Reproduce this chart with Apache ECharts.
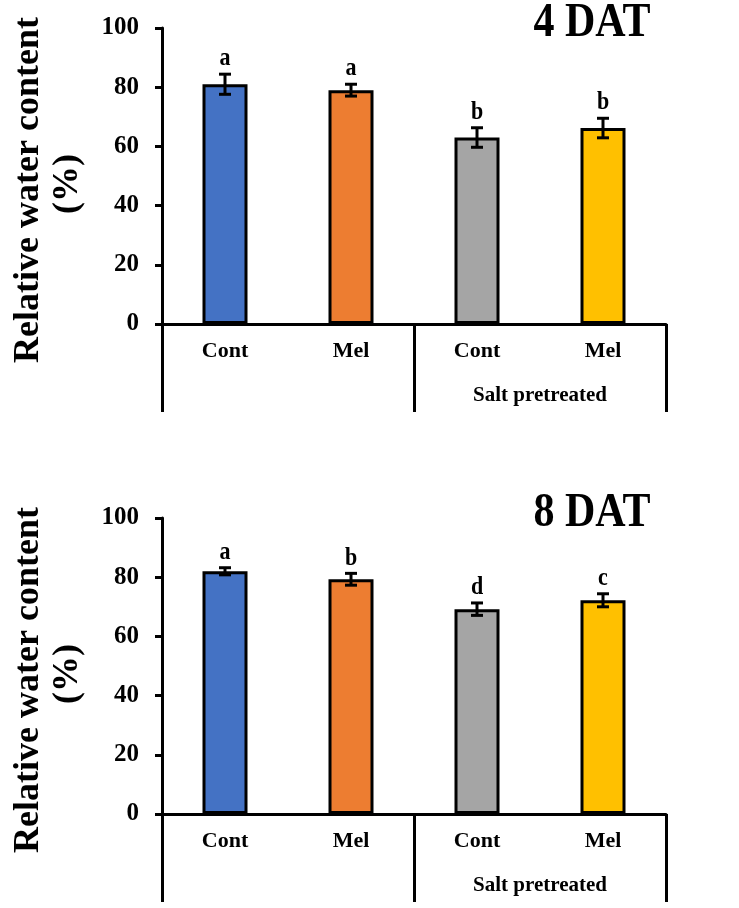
<!DOCTYPE html>
<html>
<head>
<meta charset="utf-8">
<script src="https://cdn.jsdelivr.net/npm/echarts@6/dist/echarts.min.js"></script>
<style>
html,body{margin:0;padding:0;background:#fff;}
#chart{width:739px;height:908px;}
</style>
</head>
<body>
<div id="chart"></div>
<script>
// ---- data ----
const categories = ['Cont', 'Mel', 'Cont', 'Mel'];
const groupLabels = ['', 'Salt pretreated'];
const yTicks = [0, 20, 40, 60, 80, 100];
const rwc4 = [81.0, 79.0, 63.0, 66.2];
const err4 = [3.4, 2.0, 3.3, 3.3];
const letters4 = ['a', 'a', 'b', 'b'];
const rwc8 = [82.0, 79.3, 69.2, 72.2];
const err8 = [1.2, 2.0, 2.1, 2.2];
const letters8 = ['a', 'b', 'd', 'c'];
const panelTitles = ['4 DAT', '8 DAT'];
const yName = 'Relative water content';
const yUnit = '(%)';

// ---- style ----
const barColors = ['#4472C4', '#ED7D31', '#A5A5A5', '#FFC000'];
const FONT = '"Liberation Serif", "Times New Roman", serif';
const gridTops = [28, 518];
const gridH = 296;

const chart = echarts.init(document.getElementById('chart'));

function errRenderer(letters) {
  return function (params, api) {
    const x = api.value(0), lo = api.value(1), hi = api.value(2);
    const pHi = api.coord([x, hi]);
    const pLo = api.coord([x, lo]);
    const cap = 6;
    const ls = { stroke: '#000', lineWidth: 3 };
    return {
      type: 'group',
      children: [
        { type: 'line', shape: { x1: pHi[0], y1: pHi[1], x2: pLo[0], y2: pLo[1] }, style: ls },
        { type: 'line', shape: { x1: pHi[0] - cap, y1: pHi[1], x2: pHi[0] + cap, y2: pHi[1] }, style: ls },
        { type: 'line', shape: { x1: pLo[0] - cap, y1: pLo[1], x2: pLo[0] + cap, y2: pLo[1] }, style: ls },
        { type: 'text', x: pHi[0], y: pHi[1] - 3, scaleY: 1.1,
          style: { text: letters[params.dataIndex], textAlign: 'center', textVerticalAlign: 'bottom',
                   font: 'bold 22px ' + FONT, fill: '#000' } }
      ]
    };
  };
}

const panels = [
  { vals: rwc4, errs: err4, letters: letters4 },
  { vals: rwc8, errs: err8, letters: letters8 }
];

const grid = [], xAxis = [], yAxis = [], series = [], graphic = [];
panels.forEach((p, i) => {
  grid.push({ left: 162, width: 504, top: gridTops[i], height: gridH, containLabel: false });
  xAxis.push({
    type: 'category', gridIndex: i, data: categories, position: 'bottom',
    axisLine: { show: true, lineStyle: { color: '#000', width: 3 } },
    axisTick: { show: false },
    axisLabel: { margin: 16, color: '#000', fontFamily: FONT, fontWeight: 'bold', fontSize: 22 }
  });
  xAxis.push({
    type: 'category', gridIndex: i, data: groupLabels, position: 'bottom',
    axisLine: { show: false },
    axisTick: { show: true, inside: false, length: 88, interval: 0, lineStyle: { color: '#000', width: 3 } },
    axisLabel: { margin: 61, color: '#000', fontFamily: FONT, fontWeight: 'bold', fontSize: 21 }
  });
  yAxis.push({
    type: 'value', gridIndex: i, min: yTicks[0], max: yTicks[yTicks.length - 1], interval: 20,
    axisLine: { show: true, lineStyle: { color: '#000', width: 3 } },
    axisTick: { show: true, length: 7, lineStyle: { color: '#000', width: 3 } },
    splitLine: { show: false },
    axisLabel: { margin: 23, color: '#000', fontFamily: FONT, fontWeight: 'bold', fontSize: 25 }
  });
  series.push({
    type: 'bar', xAxisIndex: i * 2, yAxisIndex: i, barWidth: 45,
    data: p.vals.map((v, k) => ({ value: v, itemStyle: { color: barColors[k] } })),
    itemStyle: { borderColor: '#000', borderWidth: 3 },
    silent: true, z: 2
  });
  series.push({
    type: 'custom', xAxisIndex: i * 2, yAxisIndex: i,
    renderItem: errRenderer(p.letters),
    data: p.vals.map((v, k) => [k, v - p.errs[k], v + p.errs[k]]),
    z: 5, silent: true
  });
  const midY = gridTops[i] + gridH / 2 + 14;
  graphic.push({
    type: 'text', x: 592, y: gridTops[i] - 4, scaleY: 1.15,
    style: { text: panelTitles[i], font: 'bold 42px ' + FONT, fill: '#000', textAlign: 'center', textVerticalAlign: 'middle' }
  });
  graphic.push({
    type: 'text', x: 29, y: midY, rotation: Math.PI / 2,
    style: { text: yName, font: 'bold 36px ' + FONT, fill: '#000', textAlign: 'center', textVerticalAlign: 'middle' }
  });
  graphic.push({
    type: 'text', x: 68, y: midY - 6, rotation: Math.PI / 2,
    style: { text: yUnit, font: 'bold 36px ' + FONT, fill: '#000', textAlign: 'center', textVerticalAlign: 'middle' }
  });
});

chart.setOption({
  backgroundColor: '#fff',
  animation: false,
  grid, xAxis, yAxis, series, graphic
});
</script>
</body>
</html>
